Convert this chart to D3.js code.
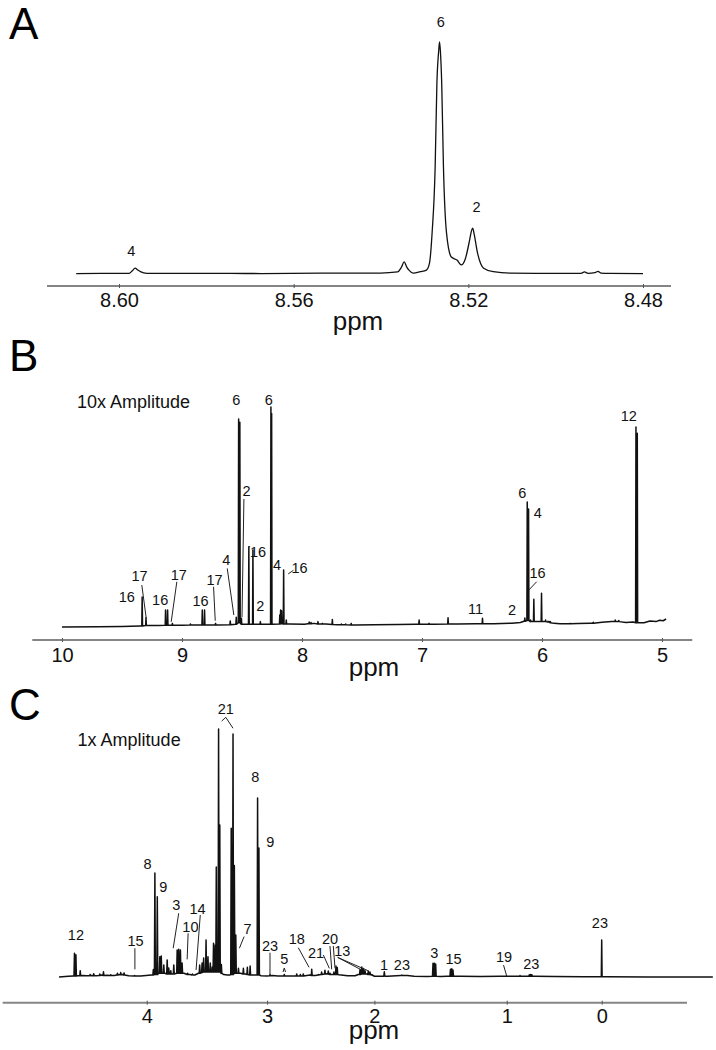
<!DOCTYPE html>
<html><head><meta charset="utf-8">
<script src="https://cdn.jsdelivr.net/npm/d3@7"></script>
<style>
body{margin:0;background:#fff;}
svg{display:block;font-family:"Liberation Sans",Arial,Helvetica,sans-serif;}
</style></head><body>
<svg id="chart" width="716" height="1050"></svg>
<script>
// ---------------- DATA ----------------
// Panel A: zoomed region 8.48-8.61 ppm, [ppm, relative intensity]
const spectrumA = [[8.6098,0.2],[8.6041,0.3],[8.5990,0.3],[8.5977,0.3],[8.5970,1.3],[8.5963,2.5],[8.5957,1.7],[8.5951,1.0],[8.5936,0.3],[8.5813,0.3],[8.5675,0.2],[8.5538,0.4],[8.5401,0.4],[8.5362,0.9],[8.5353,3.0],[8.5347,5.2],[8.5341,3.0],[8.5336,1.7],[8.5326,0.4],[8.5310,1.0],[8.5296,1.7],[8.5289,4.7],[8.5283,17.7],[8.5276,46.1],[8.5272,82.3],[8.5268,96],[8.5266,100],[8.5264,96],[8.5261,82.3],[8.5257,46.1],[8.5250,17.7],[8.5239,7.3],[8.5226,6.0],[8.5216,3.9],[8.5207,6.5],[8.5197,14.7],[8.5193,18.5],[8.5190,19.8],[8.5187,17.5],[8.5179,9.1],[8.5165,2.5],[8.5143,1.0],[8.5104,0.4],[8.5013,0.3],[8.4942,0.3],[8.4934,0.9],[8.4926,0.3],[8.4910,0.6],[8.4903,1.1],[8.4896,0.4],[8.4875,0.3],[8.4800,0.2]];
const ticksA = [8.60, 8.56, 8.52, 8.48];
const tickLabelsA = ["8.60", "8.56", "8.52", "8.48"];
const labelsA = [["6",8.5263,108.7],["2",8.5181,28.9],["4",8.5972,10.0]];

// Panel B: 10x amplitude, 10-5 ppm
const baselineB = [[10.00,-0.5],[9.70,-0.3],[9.50,-0.2],[9.35,0],[9.20,0.2],[9.00,0.3],[8.90,0.4],[8.70,0.5],[8.60,0.6],[8.45,0.8],[8.30,0.8],[8.10,0.9],[7.98,0.8],[7.95,1.0],[7.90,1.2],[7.80,0.9],[7.70,0.6],[7.55,0.5],[7.40,0.6],[7.20,0.7],[7.05,0.8],[6.90,0.8],[6.70,0.9],[6.55,1.0],[6.40,1.0],[6.25,1.3],[6.18,1.6],[6.15,2.2],[5.94,2.0],[5.90,1.2],[5.85,1.0],[5.70,1.1],[5.60,1.3],[5.50,1.7],[5.42,2.0],[5.30,1.6],[5.24,1.8],[5.19,1.5],[5.15,1.5],[5.10,2.3],[5.05,2.0],[5.02,2.6],[4.99,2.4],[4.966,3.2]];
const peaksB = [[9.332,13.2,0],[9.300,3.8,0.2],[9.137,7.3,0.3],[9.120,7.3,0.3],[9.080,1.2,0.3],[8.930,0.9,0.4],[8.831,7.3,0.5],[8.812,7.3,0.5],[8.720,1.2,0.5],[8.598,2.3,0.6],[8.548,4.0,0.8],[8.528,94.5,1.5],[8.518,93,1.5],[8.505,3.5,0.8],[8.443,36.2,0.8],[8.409,34.7,0.8],[8.347,2.0,0.8],[8.259,100,0.8],[8.253,97,0.8],[8.185,5.0,0.9],[8.178,7.3,1.0],[8.170,7.0,1.0],[8.153,25.6,0.9],[8.131,2.7,0.9],[7.940,1.8,1.0],[7.925,1.6,1.0],[7.867,2.0,0.9],[7.830,1.2,0.9],[7.747,3.0,0.7],[7.672,0.9,0.6],[7.636,0.9,0.6],[7.590,1.2,0.5],[7.024,2.7,0.8],[6.941,1.2,0.8],[6.783,3.8,0.9],[6.496,3.5,1.0],[6.143,3.6,2.2],[6.123,56.6,2.5],[6.112,53.4,2.5],[6.095,2.7,2.0],[6.068,12.2,2.0],[6.004,14.9,2.0],[5.970,2.7,2.0],[5.950,2.2,1.8],[5.930,2.0,1.5],[5.767,1.2,1.0],[5.573,1.7,1.3],[5.390,2.7,2.0],[5.360,2.5,2.0],[5.217,90.9,1.5],[5.206,88,1.5]];
const ticksB = [10, 9, 8, 7, 6, 5];
const tickLabelsB = ["10", "9", "8", "7", "6", "5"];
const labelsB = [["6",8.547,103.2],["6",8.277,103.2],["2",8.462,61.8],["16",8.367,33.8],["4",8.209,28.1],["16",8.020,26.6],["17",9.354,22.8],["16",9.46,13.4],["16",9.182,11.9],["17",9.027,23.6],["16",8.845,11.4],["17",8.729,21.3],["4",8.631,30.1],["2",8.348,9.3],["11",6.554,7.8],["2",6.249,7.3],["6",6.165,60.9],["4",6.036,51.5],["16",6.037,24.1],["12",5.277,95.9]];
const leadersB = [[9.335,18.7,9.298,3.5],[9.043,20.2,9.090,1.9],[8.737,17.9,8.723,2.4],[8.623,26.3,8.568,5.0],[8.484,58,8.500,4],[8.443,36.2,8.432,36.2],[8.115,23.8,8.072,25.4],[6.045,20.2,6.110,16.4]];
const noteB = ["10x Amplitude", 9.875, 102.7];

// Panel C: 1x amplitude, 4.7 to -1 ppm
const baselineC = [[4.728,0],[4.65,0.3],[4.61,0.4],[4.57,0.5],[4.53,0.6],[4.50,0.5],[4.46,0.6],[4.42,0.5],[4.37,0.8],[4.33,0.7],[4.27,0.6],[4.23,0.9],[4.20,1.0],[4.15,0.5],[4.05,0.4],[3.96,0.8],[3.905,1.5],[3.85,1.5],[3.79,1.2],[3.69,1.5],[3.64,1.0],[3.60,0.8],[3.57,1.5],[3.50,2.0],[3.46,2.0],[3.36,1.0],[3.33,0.8],[3.31,0.8],[3.22,1.5],[3.18,1.2],[3.12,0.8],[3.09,0.8],[3.05,0.5],[3.00,0.4],[2.95,0.6],[2.90,0.4],[2.80,0.4],[2.74,0.4],[2.60,0.8],[2.55,0.6],[2.50,1.0],[2.44,1.3],[2.39,1.0],[2.33,0.9],[2.25,0.5],[2.18,0.5],[2.15,1.0],[2.07,1.2],[2.03,0.8],[2.00,0.3],[1.90,0.3],[1.80,0.6],[1.75,0.6],[1.70,0.3],[1.60,0.2],[1.50,0.2],[1.45,0.3],[1.35,0.3],[1.20,0.2],[1.05,0.3],[0.95,0.3],[0.80,0.3],[0.70,0.3],[0.50,0.2],[0.20,0.1],[0.05,0.1],[-0.05,0.1],[-0.5,0],[-1.17,0]];
const peaksC = [[4.600,9.6,0.4],[4.588,9.0,0.4],[4.552,2.5,0.5],[4.47,1.0,0.5],[4.44,1.3,0.5],[4.39,1.2,0.6],[4.359,2.1,0.6],[4.298,0.9,0.6],[4.243,1.5,0.8],[4.216,1.8,0.9],[4.188,1.6,0.8],[4.10,0.6,0.4],[3.945,3.0,0.8],[3.932,41.9,1.0],[3.921,6.0,1.0],[3.912,32.4,1.0],[3.891,8.2,1.5],[3.879,8.5,1.5],[3.858,4.8,1.5],[3.830,6.9,1.2],[3.817,3.6,1.2],[3.800,2.5,1.2],[3.775,4.8,1.2],[3.747,10.9,1.5],[3.734,11.2,1.5],[3.720,10.9,1.5],[3.706,5.6,1.5],[3.66,1.5,1.0],[3.62,1.2,0.8],[3.560,4.8,1.5],[3.540,5.6,1.8],[3.527,7.7,2.0],[3.507,14.9,2.0],[3.491,8.2,2.0],[3.472,5.6,2.0],[3.455,4.0,2.0],[3.445,13.6,2.0],[3.431,12.9,2.0],[3.422,44.4,2.0],[3.403,100,2.0],[3.393,61.3,2.0],[3.380,5.0,1.5],[3.298,60,1.0],[3.283,98,1.0],[3.272,45,1.5],[3.260,16.9,1.5],[3.238,3.5,1.5],[3.197,3.5,1.2],[3.164,3.9,1.0],[3.141,4.4,0.8],[3.079,72.2,0.8],[3.068,52,0.8],[2.973,0.9,0.5],[2.840,1.0,0.4],[2.724,1.2,0.4],[2.69,1.0,0.4],[2.663,1.2,0.4],[2.584,3.1,0.6],[2.523,1.0,0.8],[2.492,2.0,1.0],[2.461,2.7,1.2],[2.430,2.4,1.2],[2.414,1.5,1.0],[2.377,2.0,1.0],[2.358,4.4,1.0],[2.346,3.8,1.0],[2.134,3.0,1.0],[2.118,4.0,1.2],[2.102,3.4,1.2],[2.087,2.5,1.2],[2.057,2.4,1.0],[2.041,2.0,1.0],[2.025,1.0,0.8],[1.925,2.1,0.3],[1.792,0.8,0.6],[1.557,5.5,0.3],[1.547,5.5,0.3],[1.537,5.2,0.3],[1.425,3.1,0.3],[1.415,3.3,0.3],[1.406,2.8,0.3],[1.002,0.5,0.3],[0.860,0.6,0.3],[0.762,0.9,0.3],[0.748,1.0,0.3],[0.735,0.9,0.3],[0.000,14.9,0.1]];
const ticksC = [4, 3, 2, 1, 0];
const tickLabelsC = ["4", "3", "2", "1", "0"];
const labelsC = [["12",4.588,16.9],["15",4.092,14.5],["8",3.993,45.6],["9",3.863,36.4],["3",3.755,29.0],["10",3.637,20.3],["14",3.577,27.7],["21",3.343,108.1],["7",3.163,19.6],["8",3.098,80.6],["9",2.970,54.4],["23",2.973,12.6],["5",2.840,7.5],["18",2.724,15.3],["21",2.544,9.8],["20",2.414,15.6],["13",2.299,10.6],["1",1.927,4.8],["23",1.792,4.8],["3",1.547,9.6],["15",1.402,7.5],["19",1.020,8.2],["23",0.741,5.2],["23",0.019,21.7]];
const leadersC = [[4.098,11.6,4.098,3.1],[3.734,25.7,3.780,11.6],[3.656,17.6,3.664,7.1],[3.555,25.0,3.590,2.8],[3.377,103.2,3.343,104.7],[3.343,104.7,3.283,100.3],[3.191,16.3,3.230,11.6],[2.973,9.8,2.973,0.8],[2.852,2.0,2.840,3.6],[2.840,3.6,2.828,2.0],[2.709,11.8,2.609,3.9],[2.476,8.9,2.420,3.5],[2.414,12.5,2.398,3.1],[2.383,12.5,2.367,3.5],[2.342,7.9,2.118,2.8],[2.342,7.9,2.057,2.5],[1.024,4.8,1.002,0.8]];
const noteC = ["1x Amplitude", 4.574, 95.6];

// ---------------- DRAWING ----------------
const svg = d3.select("#chart");
const FONT = '"Liberation Sans",Arial,Helvetica,sans-serif';

function buildTrace(baseline, peaks, hw) {
  const pts = [];
  baseline.forEach(([p, v]) => {
    if (!peaks.some(pk => Math.abs(pk[0] - p) < hw * 1.5)) pts.push([p, v]);
  });
  peaks.forEach(([p, h, f]) => { pts.push([p + hw, f]); pts.push([p, h]); pts.push([p - hw, f]); });
  pts.sort((a, b) => b[0] - a[0]);
  return pts;
}

function drawPanel(cfg) {
  const g = svg.append("g");
  const x = cfg.x, y = cfg.y;
  // axis
  const axis = d3.axisBottom(x).tickValues(cfg.ticks)
    .tickFormat((d, i) => cfg.tickLabels[i]).tickSizeOuter(0).tickSize(2);
  const ax = g.append("g").attr("transform", `translate(0,${cfg.axisY})`).call(axis);
  ax.select(".domain").attr("stroke", "#858585").attr("stroke-width", 2)
    .attr("d", `M${cfg.axisRange[0]},0H${cfg.axisRange[1]}`);
  ax.selectAll(".tick line").attr("y1", -2).attr("y2", 2).attr("stroke", "#555").attr("stroke-width", 1);
  ax.selectAll(".tick text").attr("y", cfg.tickDy).attr("dy", null)
    .attr("font-size", cfg.tickFont).attr("font-family", FONT).attr("fill", "#111");
  // axis title
  g.append("text").attr("x", cfg.titleX).attr("y", cfg.titleY).attr("text-anchor", "middle")
    .attr("font-size", 26).attr("fill", "#111").text("ppm");
  // trace
  const line = d3.line().x(d => x(d[0])).y(d => y(d[1])).curve(cfg.curve || d3.curveLinear);
  g.append("path").datum(cfg.trace).attr("d", line).attr("fill", "none")
    .attr("stroke", "#111").attr("stroke-width", cfg.strokeW).attr("stroke-linejoin", "round");
  // leaders
  g.selectAll("line.leader").data(cfg.leaders || []).join("line").attr("class", "leader")
    .attr("x1", d => x(d[0])).attr("y1", d => y(d[1])).attr("x2", d => x(d[2])).attr("y2", d => y(d[3]))
    .attr("stroke", "#222").attr("stroke-width", 1);
  // peak labels
  g.selectAll("text.lab").data(cfg.labels).join("text").attr("class", "lab")
    .attr("x", d => x(d[1])).attr("y", d => y(d[2])).attr("dy", "0.36em")
    .attr("text-anchor", "middle").attr("font-size", 14.5).attr("fill", "#111").text(d => d[0]);
  if (cfg.note) {
    g.append("text").attr("x", x(cfg.note[1])).attr("y", y(cfg.note[2])).attr("dy", "0.36em")
      .attr("font-size", 18).attr("fill", "#111").text(cfg.note[0]);
  }
  // panel letter
  g.append("text").attr("x", cfg.letterX).attr("y", cfg.letterY).attr("font-size", 44)
    .attr("fill", "#000").text(cfg.letter);
}

// Panel A
const xA = d3.scaleLinear().domain([8.61649, 8.47359]).range([47, 671]);
const yA = d3.scaleLinear().domain([0, 100]).range([274, 42]);
drawPanel({
  x: xA, y: yA, axisY: 286, axisRange: [47, 671], ticks: ticksA, tickLabels: tickLabelsA,
  tickDy: 20.7, tickFont: 20, titleX: 358, titleY: 330,
  trace: spectrumA, curve: d3.curveMonotoneX, strokeW: 1.3,
  labels: labelsA, leaders: [], letter: "A", letterX: 9, letterY: 39
});

// Panel B
const xB = d3.scaleLinear().domain([10.2475, 4.7475]).range([32.3, 692.3]);
const yB = d3.scaleLinear().domain([0, 100]).range([626, 407]);
drawPanel({
  x: xB, y: yB, axisY: 640, axisRange: [32.3, 692.3], ticks: ticksB, tickLabels: tickLabelsB,
  tickDy: 22.3, tickFont: 20, titleX: 374, titleY: 676,
  trace: buildTrace(baselineB, peaksB, 0.003), strokeW: 1.5,
  labels: labelsB, leaders: leadersB, note: noteB, letter: "B", letterX: 9, letterY: 371
});

// Panel C (piecewise ppm axis as drawn in the original figure)
const xC = d3.scaleLinear().domain([5.196, 4, 3, 2, 1, 0, -0.898])
  .range([2.7, 146.7, 267.1, 374.4, 506.7, 601.7, 687]);
const yC = d3.scaleLinear().domain([0, 100]).range([977, 729]);
drawPanel({
  x: xC, y: yC, axisY: 1002.7, axisRange: [2.7, 687], ticks: ticksC, tickLabels: tickLabelsC,
  tickDy: 20.6, tickFont: 20, titleX: 374, titleY: 1039,
  trace: buildTrace(baselineC, peaksC, 0.004), strokeW: 1.5,
  labels: labelsC, leaders: leadersC, note: noteC, letter: "C", letterX: 9, letterY: 720
});
</script>
</body></html>
